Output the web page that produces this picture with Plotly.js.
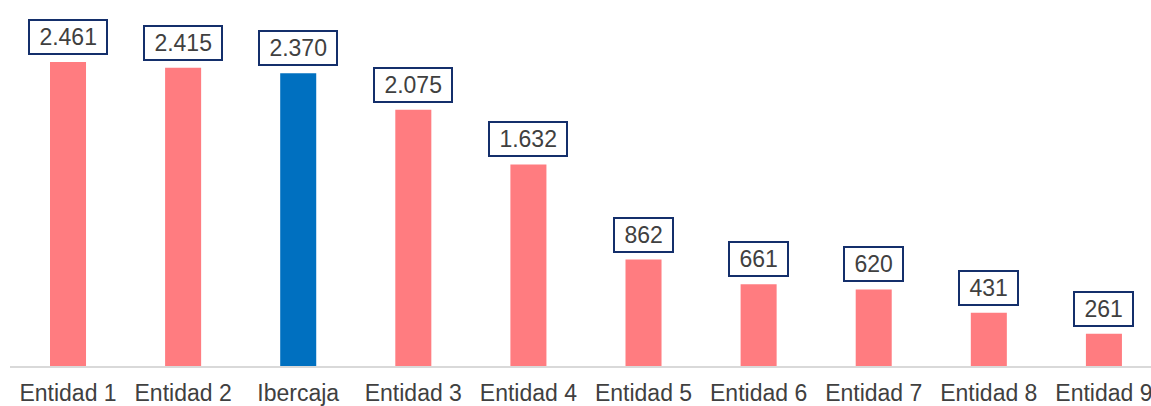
<!DOCTYPE html>
<html>
<head>
<meta charset="utf-8">
<script src="https://cdn.plot.ly/plotly-3.0.1.min.js"></script>
<style>html,body{margin:0;padding:0;background:#fff;}#chart{width:1151px;height:406px;}</style>
</head>
<body>
<div id="chart"></div>
<script>
const categories = ["Entidad 1", "Entidad 2", "Ibercaja", "Entidad 3", "Entidad 4", "Entidad 5", "Entidad 6", "Entidad 7", "Entidad 8", "Entidad 9"];
const values = [2461, 2415, 2370, 2075, 1632, 862, 661, 620, 431, 261];
const highlight = "Ibercaja";

const colors = categories.map(c => c === highlight ? "#0070C0" : "#FF7C80");
function fmt(v) { return String(v).replace(/\B(?=(\d{3})+(?!\d))/g, "."); }

const font = "Liberation Sans, Arial, sans-serif";
const annotations = categories.map((c, i) => ({
  x: c, y: values[i], xref: "x", yref: "y",
  text: "\u00a0" + fmt(values[i]) + "\u00a0",
  showarrow: false, yanchor: "bottom", yshift: 7,
  font: {family: font, size: 23, color: "#404040"},
  bgcolor: "#ffffff", bordercolor: "#142F6B", borderwidth: 2, borderpad: 3
}));

const trace = {
  type: "bar", x: categories, y: values,
  marker: {color: colors, line: {width: 0}},
  hoverinfo: "none"
};

const layout = {
  width: 1151, height: 406,
  margin: {l: 10, r: 0, t: 0, b: 40, pad: 0},
  paper_bgcolor: "#ffffff", plot_bgcolor: "#ffffff",
  bargap: 0.687,
  showlegend: false,
  xaxis: {
    type: "category", range: [-0.504, 9.409], fixedrange: true,
    showline: true, linecolor: "#D9D9D9", linewidth: 2,
    ticks: "", showgrid: false, zeroline: false, ticklabelstandoff: 5,
    tickfont: {family: font, size: 23, color: "#404040"}
  },
  yaxis: {
    range: [0, 2963], visible: false, showgrid: false, zeroline: false, fixedrange: true
  },
  annotations: annotations
};

Plotly.newPlot("chart", [trace], layout, {displayModeBar: false, staticPlot: true});
</script>
</body>
</html>
